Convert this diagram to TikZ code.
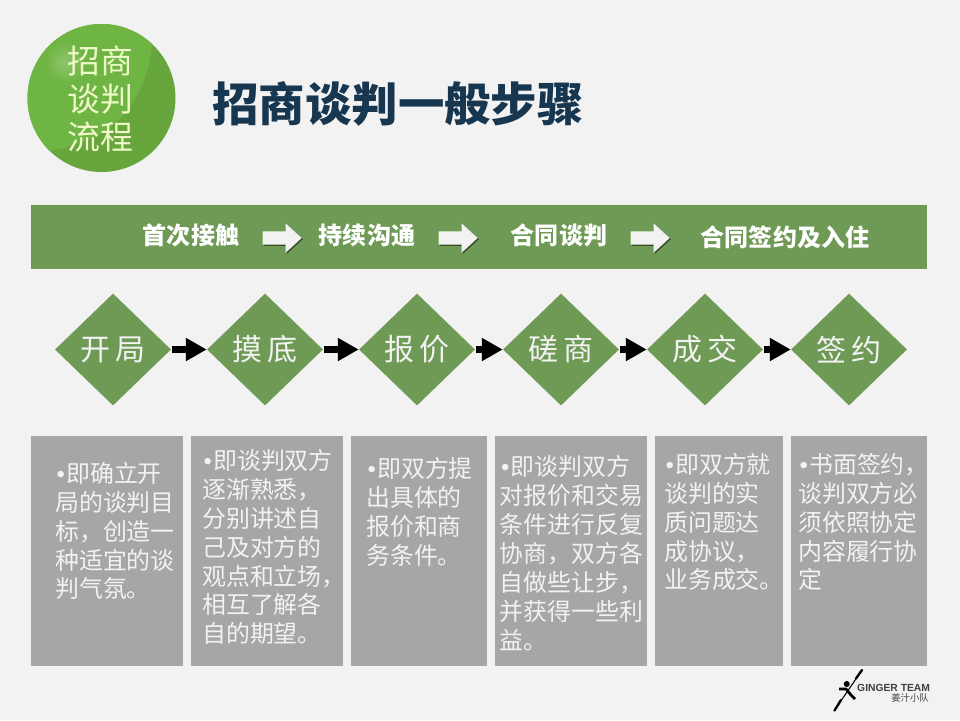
\documentclass[tikz,border=0pt]{standalone}
\usepackage{fontspec}
\setmainfont{Noto Sans CJK SC}
\newfontfamily\logofont{Liberation Sans}
\newfontfamily\titlefont{Noto Sans CJK SC Black}
\usepackage{xcolor}
\usetikzlibrary{shapes.geometric,shapes.arrows,arrows.meta,shadows}
\definecolor{pagegray}{HTML}{F2F2F2}
\definecolor{bandgreen}{HTML}{6F9A55}
\definecolor{boxgray}{HTML}{A6A6A6}
\definecolor{titleblue}{HTML}{17364F}
\definecolor{ballgreen}{HTML}{6FB544}
\definecolor{balldark}{HTML}{67A63C}
\definecolor{balltext}{HTML}{EFF8C8}
\newcommand{\zihao}[2]{\fontsize{#1}{#2}\selectfont}
\newcommand{\dotmark}{\makebox[.33cm][c]{\logofont •}}
\tikzset{
  bandtext/.style={text=white,font=\zihao{20.5}{24}\bfseries,inner sep=0},
  bandarrow/.style={single arrow,fill=pagegray,text height=13*.03cm,text depth=0pt,text width=0pt,
    minimum height=39*.03cm,single arrow head extend=8*.03cm,single arrow tip angle=85,inner sep=0,
    drop shadow={shadow xshift=1pt,shadow yshift=-1pt,fill=black!50!bandgreen,opacity=1}},
  stepdiamond/.style={diamond,fill=bandgreen,minimum width=116*.03cm,minimum height=112*.03cm,inner sep=0,
    text=pagegray,font=\zihao{25.6}{30}},
  stepflow/.style={line width=7*.03cm,-{Triangle[length=21*.03cm,width=22*.03cm]},black,shorten <=1*.03cm},
  infobox/.style={rectangle,fill=boxgray,inner sep=0,minimum height=230*.03cm},
  infotext/.style={anchor=west,inner sep=0,align=left,text=pagegray,font=\zihao{20.4}{24.7}}
}
\begin{document}
\begin{tikzpicture}[x=.03cm,y=-.03cm]
\useasboundingbox (0,0) rectangle (960,720);
\fill[pagegray] (0,0) rectangle (960,720);

\fill[balldark] (101.5,98) circle(74);
\begin{scope}
\clip (101.5,98) circle(74);
\fill[ballgreen] (20,10) -- (152,10) -- (152,44) .. controls (147,95) and (120,140) .. (52,150) -- (20,170) -- cycle;
\shade[inner color=white!22!ballgreen,outer color=ballgreen] (65,62) circle(20);
\end{scope}
\node[text=balltext,inner sep=0,align=center,font=\zihao{28}{32.2}] (ball) at (100.5,99) {招商\\谈判\\流程};
\node[text=titleblue,inner sep=0,font=\titlefont\zihao{39.6}{46}] (title) at (398,104) {招商谈判一般步骤};

\node[rectangle,fill=bandgreen,inner sep=0,minimum width=896*.03cm,minimum height=64*.03cm] (band) at (479,237) {};
\node[bandtext] (contact) at (191,235) {首次接触};
\node[bandtext] (talk) at (367,235) {持续沟通};
\node[bandtext] (deal) at (559,235) {合同谈判};
\node[bandtext] (sign) at (785,237) {合同签约及入住};
\node[bandarrow] (arrowa) at (278.5,238) {};
\node[bandarrow] (arrowb) at (454.5,238) {};
\node[bandarrow] (arrowc) at (646.5,238) {};

\node[stepdiamond] (open) at (113,349.5) {开\,局};
\node[stepdiamond] (probe) at (265,349.5) {摸\,底};
\node[stepdiamond] (quote) at (417,349.5) {报\,价};
\node[stepdiamond] (haggle) at (561,349.5) {磋\,商};
\node[stepdiamond] (close) at (705,349.5) {成\,交};
\node[stepdiamond] (contract) at (849,349.5) {签\,约};
\draw[stepflow] (open) -- (probe);
\draw[stepflow] (probe) -- (quote);
\draw[stepflow] (quote) -- (haggle);
\draw[stepflow] (haggle) -- (close);
\draw[stepflow] (close) -- (contract);

\node[infobox,minimum width=152*.03cm] (boxa) at (107,551) {};
\node[infobox,minimum width=152*.03cm] (boxb) at (267,551) {};
\node[infobox,minimum width=136*.03cm] (boxc) at (419,551) {};
\node[infobox,minimum width=152*.03cm] (boxd) at (571,551) {};
\node[infobox,minimum width=128*.03cm] (boxe) at (719,551) {};
\node[infobox,minimum width=136*.03cm] (boxf) at (859,551) {};
\node[infotext] (texta) at (55,531) {\dotmark 即确立开\\局的谈判目\\标，创造一\\种适宜的谈\\判气氛。};
\node[infotext] (textb) at (202,547) {\dotmark 即谈判双方\\逐渐熟悉，\\分别讲述自\\己及对方的\\观点和立场，\\相互了解各\\自的期望。};
\node[infotext] (textc) at (366,512) {\dotmark 即双方提\\出具体的\\报价和商\\务条件。};
\node[infotext] (textd) at (499.5,553) {\dotmark 即谈判双方\\对报价和交易\\条件进行反复\\协商，双方各\\自做些让步，\\并获得一些利\\益。};
\node[infotext] (texte) at (664,522) {\dotmark 即双方就\\谈判的实\\质问题达\\成协议，\\业务成交。};
\node[infotext] (textf) at (798,522) {\dotmark 书面签约，\\谈判双方必\\须依照协定\\内容履行协\\定};

\draw[line width=.9,black] (834,711) -- (862,670);
\draw[line width=2,line cap=round,black] (834.5,710.5) -- (841,700);
\draw[line width=2,line cap=round,black] (856,678.5) -- (862,670);
\fill[black] (846.7,684) circle(3);
\draw[line width=2.4,line join=round,black] (839,689) -- (846,689) -- (851,695) -- (855,699);
\node[inner sep=0,anchor=west,text=black!75,font=\logofont\zihao{8.8}{10}\bfseries] (logoname) at (857,688) {GINGER TEAM};
\node[inner sep=0,anchor=east,text=black!75,font=\zihao{8}{10}] (logocn) at (929,698) {姜汁小队};
\end{tikzpicture}
\end{document}
